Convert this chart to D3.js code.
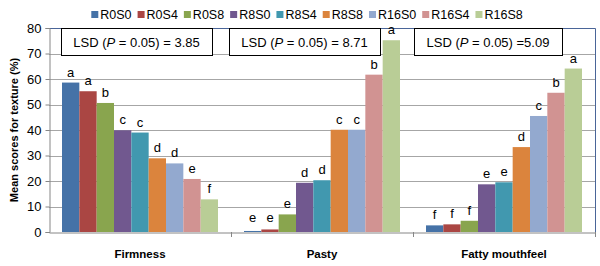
<!DOCTYPE html>
<html>
<head>
<meta charset="utf-8">
<script src="https://cdn.jsdelivr.net/npm/d3@7"></script>
<style>
  body { margin: 0; background: #fff; }
  text { font-family: "Liberation Sans", Arial, sans-serif; }
</style>
</head>
<body>
<script>
var w = 600,
    h = 266;

// Data
var categories = ['Firmness', 'Pasty', 'Fatty mouthfeel'];
var treatments = ['R0S0', 'R0S4', 'R0S8', 'R8S0', 'R8S4', 'R8S8', 'R16S0', 'R16S4', 'R16S8'];
var firmness = [58.6, 55.2, 50.6, 39.9, 39.0, 28.9, 26.9, 20.8, 12.8];
var pasty    = [0.4, 1.0, 6.9, 19.3, 20.3, 40.1, 40.1, 61.7, 75.2];
var fatty    = [2.6, 3.0, 4.4, 18.7, 19.5, 33.3, 45.5, 54.6, 64.1];
var firmnessLetters = ['a', 'a', 'b', 'c', 'c', 'd', 'd', 'e', 'f'];
var pastyLetters    = ['e', 'e', 'e', 'd', 'd', 'c', 'c', 'b', 'a'];
var fattyLetters    = ['f', 'f', 'f', 'e', 'e', 'd', 'c', 'b', 'a'];
var lsdValues = ['3.85', '8.71', '5.09'];
var lsdSep = [' = ', ' = ', ' ='];
var yTicks = [0, 10, 20, 30, 40, 50, 60, 70, 80];

var colors = ['#4572A7', '#AA4643', '#89A54E', '#71588F', '#4198AF',
              '#DB843D', '#93A9CF', '#D19392', '#B9CD96'];

var seriesValues = [firmness, pasty, fatty];
var seriesLetters = [firmnessLetters, pastyLetters, fattyLetters];

var mLeft = 49, mRight = 595, mTop = 28, mBottom = 232;

var svg = d3.select('body')
            .append('svg')
            .attr('width', w)
            .attr('height', h);

var x0 = d3.scaleBand()
           .domain(categories)
           .range([mLeft, mRight])
           .padding(0);

var x1 = d3.scaleBand()
           .domain(treatments)
           .range([0, x0.bandwidth()])
           .paddingInner(0)
           .paddingOuter(0.75);

var y = d3.scaleLinear()
          .domain([0, 80])
          .range([mBottom, mTop]);

var color = d3.scaleOrdinal()
              .domain(treatments)
              .range(colors);

// gridlines
svg.append('g')
   .selectAll('line')
   .data(yTicks.filter(function(d) { return d > 0; }))
   .enter()
   .append('line')
   .attr('x1', mLeft)
   .attr('x2', mRight)
   .attr('y1', function(d) { return Math.round(y(d)) + 0.5; })
   .attr('y2', function(d) { return Math.round(y(d)) + 0.5; })
   .style('stroke', '#a6a6a6')
   .style('stroke-width', 1);

// plot border top / right
svg.append('path')
   .attr('d', 'M' + mLeft + ',' + (Math.round(y(80)) + 0.5) +
              'H' + (mRight + 0.5) + 'V' + mBottom)
   .style('fill', 'none')
   .style('stroke', '#4a6598')
   .style('stroke-width', 1);

// build rows
var rows = [];
categories.forEach(function(c, i) {
  treatments.forEach(function(t, j) {
    rows.push({cat: c, tr: t, value: seriesValues[i][j], letter: seriesLetters[i][j]});
  });
});

svg.append('g')
   .selectAll('rect')
   .data(rows)
   .enter()
   .append('rect')
   .attr('x', function(d) { return x0(d.cat) + x1(d.tr); })
   .attr('y', function(d) { return y(d.value); })
   .attr('width', x1.bandwidth())
   .attr('height', function(d) { return mBottom - y(d.value); })
   .style('fill', function(d) { return color(d.tr); });

// significance letters
svg.append('g')
   .selectAll('text')
   .data(rows)
   .enter()
   .append('text')
   .attr('x', function(d) { return x0(d.cat) + x1(d.tr) + x1.bandwidth() / 2; })
   .attr('y', function(d) { return Math.min(y(d.value), mBottom - 4) - 6; })
   .attr('text-anchor', 'middle')
   .style('font-size', '13px')
   .style('fill', '#000')
   .text(function(d) { return d.letter; });

// y axis
var yAxis = d3.axisLeft(y)
              .tickValues(yTicks)
              .tickSize(4)
              .tickPadding(4);

var gy = svg.append('g')
            .attr('transform', 'translate(' + (mLeft + 0.5) + ',0)')
            .call(yAxis);
gy.select('.domain').style('stroke', '#868686');
gy.selectAll('.tick line').style('stroke', '#868686');
gy.selectAll('.tick text')
  .style('font-size', '13px')
  .style('font-family', '"Liberation Sans", Arial, sans-serif')
  .style('fill', '#000');

// x axis
var xAxis = d3.axisBottom(x0)
              .tickSize(0)
              .tickFormat('');
var gx = svg.append('g')
            .attr('transform', 'translate(0,' + (mBottom + 0.5) + ')')
            .call(xAxis);
gx.select('.domain').style('stroke', '#868686');
gx.selectAll('.tick').remove();

// category separators
svg.append('g')
   .selectAll('line')
   .data(categories)
   .enter()
   .append('line')
   .attr('x1', function(d) { return Math.round(x0(d) + x0.bandwidth()) + 0.5; })
   .attr('x2', function(d) { return Math.round(x0(d) + x0.bandwidth()) + 0.5; })
   .attr('y1', mBottom)
   .attr('y2', mBottom + 5)
   .style('stroke', '#868686');

// category labels
svg.append('g')
   .selectAll('text')
   .data(categories)
   .enter()
   .append('text')
   .attr('x', function(d) { return x0(d) + x0.bandwidth() / 2; })
   .attr('y', 258)
   .attr('text-anchor', 'middle')
   .style('font-size', '11.5px')
   .style('font-weight', 'bold')
   .text(function(d) { return d; });

// y title
svg.append('text')
   .attr('transform', 'translate(18,' + ((mTop + mBottom) / 2) + ') rotate(-90)')
   .attr('text-anchor', 'middle')
   .style('font-size', '11px')
   .style('font-weight', 'bold')
   .text('Mean scores for texture (%)');

// LSD boxes
var boxOffsets = [-79, -93, -90];
var boxWidths = [151, 151, 148];
var lsd = svg.append('g')
             .selectAll('g')
             .data(categories)
             .enter()
             .append('g');

lsd.append('rect')
   .attr('x', function(d, i) { return Math.round(x0(d) + x0.bandwidth() / 2 + boxOffsets[i]) + 0.5; })
   .attr('y', Math.round(y(80)) + 0.5)
   .attr('width', function(d, i) { return boxWidths[i]; })
   .attr('height', 27)
   .style('fill', '#fff')
   .style('stroke', '#000')
   .style('stroke-width', 1);

var lsdText = lsd.append('text')
   .attr('x', function(d, i) { return x0(d) + x0.bandwidth() / 2 + boxOffsets[i] + boxWidths[i] / 2; })
   .attr('y', Math.round(y(80)) + 19)
   .attr('text-anchor', 'middle')
   .style('font-size', '13px');

lsdText.append('tspan').text('LSD (');
lsdText.append('tspan').style('font-style', 'italic').text('P');
lsdText.append('tspan').text(function(d, i) { return ' = 0.05)' + lsdSep[i] + lsdValues[i]; });

// legend
var legend = svg.append('g');
var lx = 0;
treatments.forEach(function(t) {
  var item = legend.append('g').attr('transform', 'translate(' + lx + ',0)');
  item.append('rect')
      .attr('x', 0)
      .attr('y', 11)
      .attr('width', 7)
      .attr('height', 7)
      .style('fill', color(t));
  var tx = item.append('text')
      .attr('x', 9)
      .attr('y', 19)
      .style('font-size', '12.5px')
      .text(t);
  lx += 9 + tx.node().getComputedTextLength() + 6;
});
lx -= 6;
legend.attr('transform', 'translate(' + (307 - lx / 2) + ',0)');
</script>
</body>
</html>
